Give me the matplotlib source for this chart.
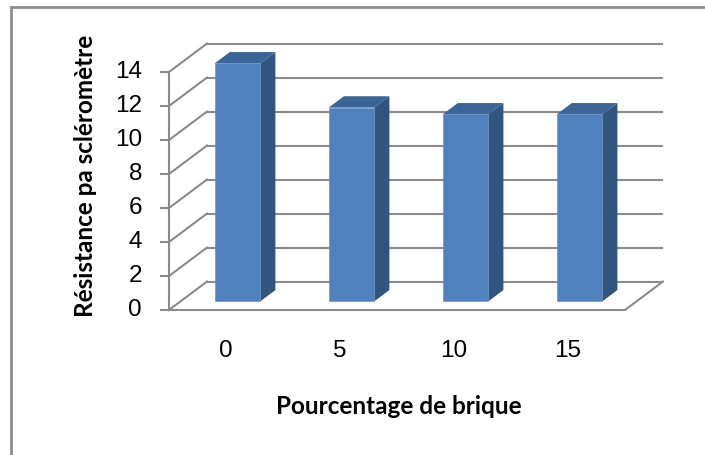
import matplotlib
matplotlib.use("Agg")
import matplotlib.pyplot as plt
from matplotlib.patches import Polygon
from matplotlib.lines import Line2D

# ── data ──────────────────────────────────────────────────────────────────────
categories = ["0", "5", "10", "15"]
values = [14, 11.4, 11, 11]
yticks = [0, 2, 4, 6, 8, 10, 12, 14]

# ── look ──────────────────────────────────────────────────────────────────────
FRONT = "#4F81BD"
TOP = "#3B6596"
SIDE = "#325580"
GRID = "#8a8a8a"

W, H = 705, 455
PX0, PXU = 169, 114      # pixel of x=0 and pixels per category
PY0, PYU = 310, 17       # pixel row of y=0 and pixels per unit
DX, DY = 38 / PXU, 28.5 / PYU   # oblique depth offset in data units
BAR_W = 0.4
D0, D1 = 0.3, 0.7        # bar depth (fraction of floor depth)
YMAX = yticks[-1]

fig = plt.figure(figsize=(W / 100, H / 100), dpi=100)
ax = fig.add_axes([0, 0, 1, 1])
ax.set_xlim(-PX0 / PXU, (W - PX0) / PXU)
ax.set_ylim((PY0 - H) / PYU, PY0 / PYU)
ax.axis("off")

n = len(categories)

# walls / floor grid
for v in yticks:
    ax.plot([DX, n + DX], [v + DY, v + DY], color=GRID, lw=1.5, zorder=1,
            solid_capstyle="butt")
    ax.plot([0, DX], [v, v + DY], color=GRID, lw=1.5, zorder=1)
    ax.plot([-8 / PXU, 0], [v, v], color=GRID, lw=1.5, zorder=1)
ax.plot([0, 0], [0, YMAX], color=GRID, lw=1.5, zorder=1)
ax.plot([0, n, n + DX], [0, 0, DY], color=GRID, lw=1.5, zorder=1)

# bars
for i, v in enumerate(values):
    x0 = i + (1 - BAR_W) / 2
    x1 = x0 + BAR_W
    fx, fy = D0 * DX, D0 * DY
    bx, by = D1 * DX, D1 * DY
    front = [(x0 + fx, fy), (x1 + fx, fy), (x1 + fx, v + fy), (x0 + fx, v + fy)]
    side = [(x1 + fx, fy), (x1 + bx, by), (x1 + bx, v + by), (x1 + fx, v + fy)]
    top = [(x0 + fx, v + fy), (x1 + fx, v + fy), (x1 + bx, v + by), (x0 + bx, v + by)]
    ax.add_patch(Polygon(side, closed=True, facecolor=SIDE, edgecolor="none", zorder=3))
    ax.add_patch(Polygon(top, closed=True, facecolor=TOP, edgecolor="none", zorder=3))
    ax.add_patch(Polygon(front, closed=True, facecolor=FRONT, edgecolor="#6a94c8",
                         lw=0.5, zorder=4))

# tick labels
for v in yticks:
    ax.text(-27 / PXU, v, str(v), ha="right", va="center", fontsize=17.5,
            family="Liberation Sans", color="black")
for i, c in enumerate(categories):
    ax.text(i + 0.5, -41 / PYU, c, ha="center", va="center", fontsize=17.5,
            family="Liberation Sans", color="black")

# axis titles
ax.text((399 - PX0) / PXU, (PY0 - 406) / PYU, "Pourcentage de brique",
        ha="center", va="center", fontsize=17.5, fontweight="bold", family="Lato")
ax.text((86 - PX0) / PXU, (PY0 - 176) / PYU, "Résistance pa scléromètre",
        ha="center", va="center", rotation=90, fontsize=17.5, fontweight="bold",
        family="Lato")

# chart frame (left and top edges visible)
fig.add_artist(Line2D([10.5 / W, 10.5 / W], [0, 1 - 7 / H], color="#8c8c8c",
                      lw=2, transform=fig.transFigure))
fig.add_artist(Line2D([10.5 / W, 1], [1 - 7 / H, 1 - 7 / H], color="#8c8c8c",
                      lw=2, transform=fig.transFigure))

fig.savefig("out.png", dpi=100, facecolor="white")
